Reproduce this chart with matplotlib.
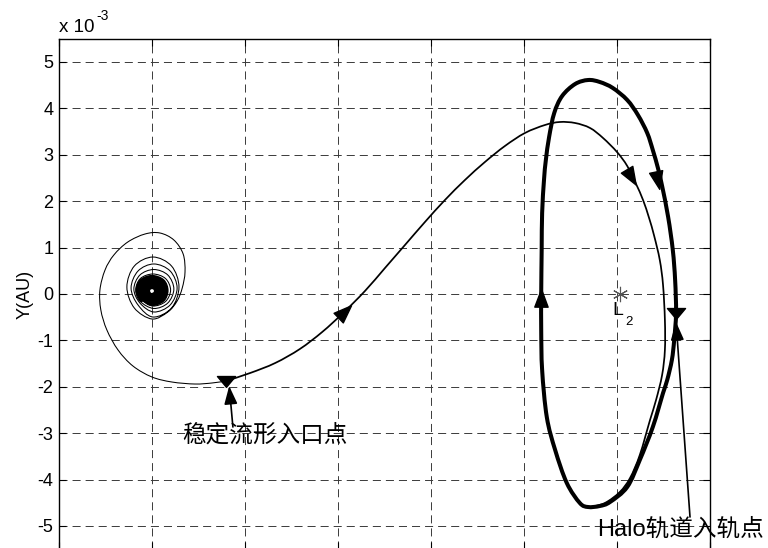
import numpy as np
import matplotlib
matplotlib.use("Agg")
import matplotlib.pyplot as plt
from matplotlib.path import Path
from matplotlib.patches import PathPatch
from matplotlib.markers import MarkerStyle
from matplotlib.transforms import Affine2D
from matplotlib.ticker import FuncFormatter

plt.rcParams["font.family"] = ["Liberation Sans", "Noto Sans CJK SC"]
plt.rcParams["lines.scale_dashes"] = False

Y_UNIT = 1e-3  # y values below are given in units of 1e-3 AU

# ---- trajectory data (X in AU, Y in 1e-3 AU) ----
# dense inner part of the spiral near Earth
core_x = [1.00000, 1.00006, 1.00009, 1.00006, 1.00000, 0.99994, 0.99991, 0.99994,
          1.00000, 1.00012, 1.00017, 1.00012, 1.00000, 0.99988, 0.99983, 0.99988,
          1.00000, 1.00018, 1.00026, 1.00018, 1.00000, 0.99982, 0.99974, 0.99982,
          1.00000, 1.00023, 1.00031, 1.00023, 1.00000, 0.99977, 0.99969, 0.99977]
core_y = [-0.022, 0.000, 0.065, 0.129, 0.151, 0.129, 0.065, 0.000,
          -0.097, -0.054, 0.065, 0.183, 0.226, 0.183, 0.065, -0.054,
          -0.172, -0.108, 0.065, 0.237, 0.302, 0.237, 0.065, -0.108,
          -0.216, -0.129, 0.075, 0.280, 0.366, 0.280, 0.075, -0.129]

# outer revolutions of the spiral, ending at the manifold entry point
spiral_x = [1.00002, 1.00029, 1.00040, 1.00029, 1.00002, 0.99975, 0.99965, 0.99975,
            1.00004, 1.00034, 1.00047, 1.00034, 1.00004, 0.99974, 0.99961, 0.99974,
            1.00004, 1.00039, 1.00054, 1.00039, 1.00004, 0.99970, 0.99955, 0.99970,
            1.00002, 1.00042, 1.00058, 1.00042, 1.00002, 0.99962, 0.99946, 0.99962,
            1.00000, 1.00034, 1.00054, 1.00065, 1.00071, 1.00067, 1.00047, 1.00017,
            0.99985, 0.99948, 0.99918, 0.99899, 0.99888, 0.99890, 0.99903, 0.99927,
            0.99959, 1.00000, 1.00043, 1.00092, 1.00129, 1.00159]
spiral_y = [-0.259, -0.162, 0.086, 0.334, 0.431, 0.334, 0.086, -0.162,
            -0.312, -0.194, 0.108, 0.409, 0.528, 0.409, 0.108, -0.194,
            -0.388, -0.237, 0.129, 0.496, 0.647, 0.496, 0.129, -0.237,
            -0.496, -0.302, 0.151, 0.603, 0.797, 0.603, 0.151, -0.302,
            -0.539, -0.388, -0.151, 0.129, 0.474, 0.862, 1.164, 1.315,
            1.293, 1.121, 0.841, 0.517, 0.086, -0.345, -0.776, -1.207,
            -1.552, -1.789, -1.897, -1.940, -1.918, -1.875]

# stable manifold transfer from the entry point to the Halo orbit
transfer_x = [1.00159, 1.00211, 1.00265, 1.00318, 1.00366, 1.00411, 1.00458, 1.00501,
              1.00544, 1.00587, 1.00630, 1.00673, 1.00716, 1.00759, 1.00802, 1.00845,
              1.00877, 1.00910, 1.00942, 1.00970, 1.01000, 1.01022, 1.01041, 1.01056,
              1.01069, 1.01080, 1.01092, 1.01099, 1.01103, 1.01103, 1.01097, 1.01084,
              1.01071, 1.01049, 1.01028, 1.01006, 1.00974, 1.00942]
transfer_y = [-1.875, -1.703, -1.487, -1.185, -0.819, -0.409, 0.065, 0.560,
              1.056, 1.552, 2.026, 2.457, 2.845, 3.190, 3.470, 3.642,
              3.707, 3.685, 3.578, 3.362, 3.060, 2.759, 2.371, 2.026,
              1.638, 1.250, 0.733, 0.194, -0.560, -1.207, -1.746, -2.284,
              -2.716, -3.470, -3.966, -4.267, -4.504, -4.591]

# Halo orbit around L2 (closed)
halo_x = [1.00839, 1.00837, 1.00837, 1.00838, 1.00839, 1.00843, 1.00847, 1.00854,
          1.00865, 1.00882, 1.00910, 1.00938, 1.00963, 1.00991, 1.01022, 1.01045,
          1.01065, 1.01077, 1.01088, 1.01097, 1.01110, 1.01120, 1.01125, 1.01127,
          1.01123, 1.01118, 1.01108, 1.01099, 1.01077, 1.01049, 1.01022, 1.00985,
          1.00963, 1.00938, 1.00920, 1.00892, 1.00867, 1.00849]
halo_y = [-1.638, -0.776, 0.000, 0.948, 1.746, 2.457, 2.888, 3.384,
          3.901, 4.267, 4.526, 4.612, 4.569, 4.440, 4.181, 3.858,
          3.470, 3.103, 2.716, 2.328, 1.659, 0.948, 0.302, -0.409,
          -0.991, -1.422, -1.853, -2.134, -2.866, -3.578, -4.159, -4.483,
          -4.569, -4.591, -4.504, -4.073, -3.362, -2.651]

# direction arrows on the trajectories
transfer_arrow_x = [1.00411, 1.01028]
transfer_arrow_y = [-0.409, 2.565]
halo_arrow_x = [1.00837, 1.01086]
halo_arrow_y = [-0.129, 2.500]

# marked points
manifold_entry = (1.00159, -1.875)
halo_entry = (1.01127, -0.409)
L2_point = (1.01007, 0.0)

# annotation texts
label_manifold = "稳定流形入口点"
label_halo = "Halo轨道入轨点"
manifold_text_pos = (1.00065, -3.039)
manifold_arrow_tail = (1.00174, -2.866)
manifold_arrow_tip = (1.00166, -1.983)
halo_text_pos = (1.00957, -5.086)
halo_arrow_tail = (1.01157, -4.806)
halo_arrow_tip = (1.01127, -0.603)

x_ticks = [0.998, 1.000, 1.002, 1.004, 1.006, 1.008, 1.010, 1.012]
y_ticks = [-5, -4, -3, -2, -1, 0, 1, 2, 3, 4, 5]


def smooth_path(xs, ys, closed=False):
    """Cubic Bezier path passing through every given point (Catmull-Rom tangents)."""
    p = np.column_stack([np.asarray(xs, float), np.asarray(ys, float) * Y_UNIT])
    n = len(p)
    verts = [p[0]]
    codes = [Path.MOVETO]
    segs = n if closed else n - 1
    for i in range(segs):
        if closed:
            p0, p1, p2, p3 = p[(i - 1) % n], p[i], p[(i + 1) % n], p[(i + 2) % n]
        else:
            p0 = p[i - 1] if i > 0 else p[i]
            p1, p2 = p[i], p[i + 1]
            p3 = p[i + 2] if i + 2 < n else p[i + 1]
        verts += [p1 + (p2 - p0) / 6.0, p2 - (p3 - p1) / 6.0, p2]
        codes += [Path.CURVE4] * 3
    return Path(verts, codes)


def heading(ax, xs, ys, x0, y0, closed=False):
    """Screen-space direction (degrees) of a curve near (x0, y0)."""
    pts = ax.transData.transform(np.column_stack([xs, np.asarray(ys) * Y_UNIT]))
    q = ax.transData.transform((x0, y0 * Y_UNIT))
    i = int(np.argmin(np.hypot(*(pts - q).T)))
    n = len(pts)
    if closed:
        a, b = pts[(i - 1) % n], pts[(i + 1) % n]
    else:
        a, b = pts[max(i - 1, 0)], pts[min(i + 1, n - 1)]
    d = b - a
    return np.degrees(np.arctan2(d[1], d[0]))


def arrow_marker(angle):
    verts = [(0, 1), (-0.6, -0.6), (0.6, -0.6), (0, 1)]
    path = Path(verts, [Path.MOVETO, Path.LINETO, Path.LINETO, Path.CLOSEPOLY])
    return MarkerStyle(path, transform=Affine2D().rotate_deg(angle - 90))


down_tri = MarkerStyle(Path([(-1, 0.55), (1, 0.55), (0, -0.65), (-1, 0.55)],
                            [Path.MOVETO, Path.LINETO, Path.LINETO, Path.CLOSEPOLY]))

fig = plt.figure(figsize=(7.68, 5.48), dpi=100)
ax = fig.add_axes([59 / 768, 1 - 549.2 / 548, 651 / 768, 510.4 / 548])
ax.set_xlim(x_ticks[0], x_ticks[-1])
ax.set_ylim(-5.5 * Y_UNIT, 5.5 * Y_UNIT)

ax.set_xticks(x_ticks)
ax.set_yticks([v * Y_UNIT for v in y_ticks])
ax.yaxis.set_major_formatter(FuncFormatter(lambda v, p: f"{int(round(v / Y_UNIT))}"))
ax.tick_params(axis="both", direction="in", length=5, width=0.8, top=True, right=True,
               labelbottom=False, labelsize=13, pad=4)
for s in ax.spines.values():
    s.set_linewidth(1.0)
ax.set_axisbelow(True)
ax.grid(True, color="#3a3a3a", linewidth=0.7, linestyle=(0, (5.8, 3.6)))

# trajectories
ax.add_patch(PathPatch(smooth_path(core_x, core_y), fill=False, ec="k", lw=3.1,
                       joinstyle="round", capstyle="round"))
ax.add_patch(PathPatch(smooth_path([core_x[-1]] + spiral_x, [core_y[-1]] + spiral_y),
                       fill=False, ec="k", lw=0.75))
ax.add_patch(PathPatch(smooth_path(transfer_x, transfer_y), fill=False, ec="k", lw=1.25))
ax.add_patch(PathPatch(smooth_path(halo_x, halo_y, closed=True), fill=False, ec="k",
                       lw=2.9, joinstyle="round"))

# direction arrows
for x0, y0 in zip(transfer_arrow_x, transfer_arrow_y):
    ang = heading(ax, transfer_x, transfer_y, x0, y0)
    ax.plot([x0], [y0 * Y_UNIT], ls="none", marker=arrow_marker(ang), ms=16,
            color="k", zorder=5)
for x0, y0 in zip(halo_arrow_x, halo_arrow_y):
    ang = heading(ax, halo_x, halo_y, x0, y0, closed=True)
    ax.plot([x0], [y0 * Y_UNIT], ls="none", marker=arrow_marker(ang), ms=16,
            color="k", zorder=5)

# entry points
for px, py in (manifold_entry, halo_entry):
    ax.plot([px], [py * Y_UNIT], ls="none", marker=down_tri, ms=13, color="k", zorder=6)

# L2 point
ax.plot([L2_point[0]], [L2_point[1] * Y_UNIT], ls="none", marker=(6, 2, 0), ms=11,
        mec="#555555", mew=0.8, zorder=6)
ax.text(1.00990, -0.453 * Y_UNIT, "L", fontsize=14, ha="left", va="baseline")
ax.text(1.01017, -0.668 * Y_UNIT, "2", fontsize=9.5, ha="left", va="baseline")

# annotations
arrow_kw = dict(arrowstyle="-|>,head_length=0.55,head_width=0.2", mutation_scale=20,
                lw=1.2, color="k", shrinkA=0, shrinkB=0)
ax.annotate("", xy=(manifold_arrow_tip[0], manifold_arrow_tip[1] * Y_UNIT),
            xytext=(manifold_arrow_tail[0], manifold_arrow_tail[1] * Y_UNIT),
            arrowprops=arrow_kw, zorder=7)
ax.annotate("", xy=(halo_arrow_tip[0], halo_arrow_tip[1] * Y_UNIT),
            xytext=(halo_arrow_tail[0], halo_arrow_tail[1] * Y_UNIT),
            arrowprops=arrow_kw, zorder=7)
ax.text(manifold_text_pos[0], manifold_text_pos[1] * Y_UNIT, label_manifold,
        fontsize=17, ha="left", va="center", clip_on=False)
ax.text(halo_text_pos[0], halo_text_pos[1] * Y_UNIT, label_halo,
        fontsize=17, ha="left", va="center", clip_on=False)

# axis label and exponent
ax.set_ylabel("Y(AU)", fontsize=13, va="center")
ax.yaxis.set_label_coords(-0.052, 0.5)
fig.text(59 / 768, 1 - 32 / 548, "x 10", fontsize=13.5, ha="left", va="baseline")
fig.text(96 / 768, 1 - 20 / 548, "-3", fontsize=10, ha="left", va="baseline")

fig.savefig("out.png", dpi=100)
